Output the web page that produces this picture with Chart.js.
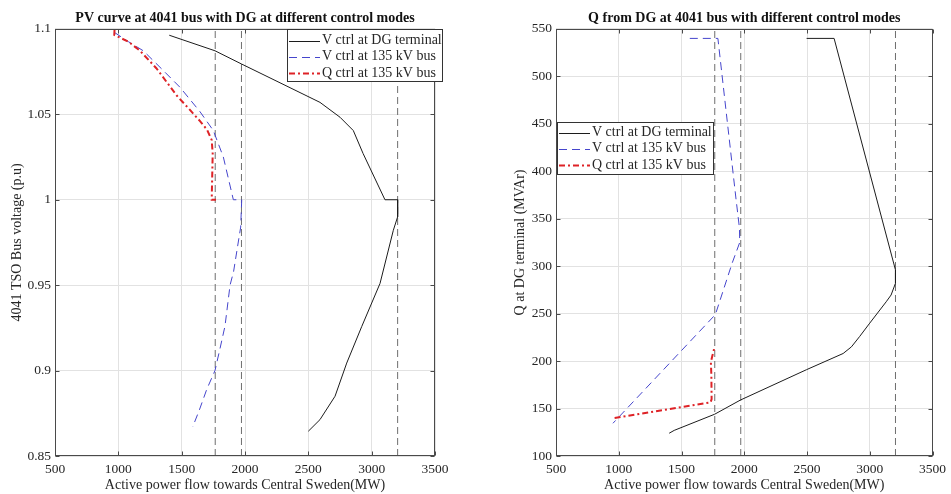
<!DOCTYPE html>
<html>
<head>
<meta charset="utf-8">
<script src="https://cdn.jsdelivr.net/npm/chart.js@4.4.1/dist/chart.umd.min.js"></script>
<style>
  html, body { margin: 0; padding: 0; background: #ffffff; }
  #wrap { position: relative; width: 951px; height: 494px; overflow: hidden; background: #ffffff; }
  canvas { position: absolute; top: 0; }
  #pv { left: 0; }
  #qc { left: 480px; }
</style>
</head>
<body>
<div id="wrap">
  <canvas id="pv" width="480" height="494"></canvas>
  <canvas id="qc" width="471" height="494"></canvas>
</div>
<script>
// Axis ticks
const flowTicks = [500, 1000, 1500, 2000, 2500, 3000, 3500];
const voltTicks = [0.85, 0.9, 0.95, 1, 1.05, 1.1];
const qTicks = [100, 150, 200, 250, 300, 350, 400, 450, 500, 550];

// Transfer limits (MW) marked as dashed verticals
const limitFlows = [1765, 1972, 3205];

const seriesNames = ['V ctrl at DG terminal', 'V ctrl at 135 kV bus', 'Q ctrl at 135 kV bus'];

// PV curve, voltage control at DG terminal
const pvDgFlow = [1402, 1763, 1974, 2300, 2592, 2750, 2855, 2932, 3105, 3205, 3205, 3171, 3066, 2921, 2803, 2711, 2592, 2500];
const pvDgVolt = [1.0963, 1.0872, 1.0794, 1.0676, 1.057, 1.0483, 1.0405, 1.0271, 1.0, 1.0, 0.99, 0.9821, 0.951, 0.9257, 0.9044, 0.885, 0.8713, 0.8645];

// PV curve, voltage control at 135 kV bus
const pvVbFlow = [968, 1080, 1197, 1350, 1487, 1645, 1750, 1829, 1908, 1974, 1966, 1940, 1910, 1882, 1842, 1800, 1763, 1698, 1640, 1587];
const pvVbVolt = [1.098, 1.0925, 1.0872, 1.076, 1.0658, 1.0515, 1.0405, 1.025, 1.0, 1.0, 0.984, 0.972, 0.958, 0.95, 0.926, 0.912, 0.9, 0.889, 0.877, 0.867];

// PV curve, reactive power control at 135 kV bus
const pvQbFlow = [970, 968, 1080, 1171, 1300, 1461, 1560, 1645, 1700, 1737, 1745, 1740, 1737, 1771];
const pvQbVolt = [1.0995, 1.0965, 1.0925, 1.0872, 1.077, 1.061, 1.053, 1.046, 1.041, 1.035, 1.027, 1.01, 1.0, 1.0];

// Reactive output of the DG, voltage control at DG terminal
const qDgFlow = [2497, 2716, 3205, 3205, 3170, 3131, 3000, 2920, 2854, 2788, 2497, 1970, 1764, 1442, 1402];
const qDgMvar = [540, 540, 296, 282, 269.6, 262.5, 240, 226, 215, 208, 191, 159, 144, 127, 124];

// Reactive output of the DG, voltage control at 135 kV bus
const qVbFlow = [1566, 1790, 1935, 1962, 1964, 1903, 1770, 954];
const qVbMvar = [540, 540, 370, 340, 325, 303, 249, 134.5];

// Reactive output of the DG, reactive power control at 135 kV bus
const qQbFlow = [967, 1732, 1740, 1738, 1734, 1745, 1760];
const qQbMvar = [140, 156.6, 160, 185, 199, 205, 213];

const serif = '"Liberation Serif", "Times New Roman", Times, serif';
const ink = '#262626';

Chart.defaults.font.family = serif;
Chart.defaults.color = ink;

function xy(xs, ys) { return xs.map((x, i) => ({ x: x, y: ys[i] })); }

function styles() {
  return [
    { borderColor: '#1c1c1c', borderWidth: 1, borderDash: [], order: 3 },
    { borderColor: '#4545cc', borderWidth: 1, borderDash: [8, 5], order: 2 },
    { borderColor: '#de2226', borderWidth: 2, borderDash: [6, 3, 2, 3], order: 1 }
  ];
}

function buildDatasets(pairs, yLo, yHi) {
  const st = styles();
  const sets = pairs.map((p, i) => Object.assign({
    label: seriesNames[i],
    data: xy(p[0], p[1]),
    showLine: true,
    pointRadius: 0,
    tension: 0,
    fill: false
  }, st[i]));
  limitFlows.forEach(f => {
    sets.push({
      label: 'limit',
      data: [{ x: f, y: yLo }, { x: f, y: yHi }],
      showLine: true,
      pointRadius: 0,
      borderColor: '#6e6e6e',
      borderWidth: 1,
      borderDash: [7, 4],
      order: 4
    });
  });
  return sets;
}

// Box around the axes with inward tick marks
const axesFrame = {
  id: 'axesFrame',
  afterDatasetsDraw(chart) {
    const { ctx, chartArea: a, scales } = chart;
    const xs = scales.x, ys = scales.y;
    const L = Math.round(a.left) + 0.5, R = Math.round(a.right) - 0.5;
    const T = Math.round(a.top) + 0.5, B = Math.round(a.bottom) - 0.5;
    const tl = 4;
    ctx.save();
    ctx.strokeStyle = '#4a4a4a';
    ctx.lineWidth = 1;
    ctx.setLineDash([]);
    ctx.strokeRect(L, T, R - L, B - T);
    ctx.beginPath();
    xs.ticks.forEach(t => {
      const p = Math.round(xs.getPixelForValue(t.value)) + 0.5;
      ctx.moveTo(p, B); ctx.lineTo(p, B - tl);
      ctx.moveTo(p, T); ctx.lineTo(p, T + tl);
    });
    ys.ticks.forEach(t => {
      const p = Math.round(ys.getPixelForValue(t.value)) + 0.5;
      ctx.moveTo(L, p); ctx.lineTo(L + tl, p);
      ctx.moveTo(R, p); ctx.lineTo(R - tl, p);
    });
    ctx.stroke();
    ctx.restore();
  }
};

// Boxed legend listing the three control modes
const boxLegend = {
  id: 'boxLegend',
  afterDraw(chart, args, o) {
    const { ctx } = chart;
    const items = seriesNames.map(n => chart.data.datasets.find(d => d.label === n));
    ctx.save();
    ctx.fillStyle = '#ffffff';
    ctx.fillRect(o.left, o.top, o.width, o.height);
    ctx.strokeStyle = '#333333';
    ctx.lineWidth = 1;
    ctx.strokeRect(Math.round(o.left) + 0.5, Math.round(o.top) + 0.5, Math.round(o.width), Math.round(o.height));
    ctx.font = '14px ' + serif;
    ctx.textBaseline = 'middle';
    ctx.textAlign = 'left';
    items.forEach((d, i) => {
      const yy = o.firstRow + i * o.rowGap;
      ctx.save();
      ctx.strokeStyle = d.borderColor;
      ctx.lineWidth = d.borderWidth;
      ctx.setLineDash(d.borderDash || []);
      ctx.beginPath();
      ctx.moveTo(o.left + 2, Math.round(yy) + 0.5);
      ctx.lineTo(o.left + 2 + o.sample, Math.round(yy) + 0.5);
      ctx.stroke();
      ctx.restore();
      ctx.fillStyle = ink;
      ctx.fillText(d.label, o.left + o.sample + 4, yy);
    });
    ctx.restore();
  }
};

function makeChart(id, spec) {
  const [yLo, yHi] = [spec.yTicks[0], spec.yTicks[spec.yTicks.length - 1]];
  return new Chart(document.getElementById(id), {
    type: 'scatter',
    data: { datasets: buildDatasets(spec.series, yLo, yHi) },
    plugins: [axesFrame, boxLegend],
    options: {
      responsive: false,
      animation: false,
      devicePixelRatio: 1,
      events: [],
      layout: { padding: { left: 0, right: spec.padRight, top: 0, bottom: 0 } },
      plugins: {
        legend: { display: false },
        tooltip: { enabled: false },
        title: {
          display: true,
          text: spec.title,
          fullSize: false,
          color: '#111111',
          font: { family: serif, size: 14, weight: 'bold', lineHeight: 1.2 },
          padding: { top: 9.8, bottom: 2.3 }
        },
        boxLegend: spec.legend
      },
      scales: {
        x: {
          type: 'linear',
          min: flowTicks[0],
          max: flowTicks[flowTicks.length - 1],
          afterBuildTicks: s => { s.ticks = flowTicks.map(v => ({ value: v })); },
          afterFit: s => { s.height = 38; },
          grid: { color: '#e2e2e2', lineWidth: 1, drawTicks: false },
          border: { display: false },
          ticks: { callback: v => String(v), font: { size: 13.5 }, color: ink, padding: 5, maxRotation: 0, autoSkip: false },
          title: { display: true, text: 'Active power flow towards Central Sweden(MW)', font: { size: 14, lineHeight: 1.2 }, color: ink, padding: { top: 0, bottom: 0 } }
        },
        y: {
          type: 'linear',
          min: yLo,
          max: yHi,
          afterBuildTicks: s => { s.ticks = spec.yTicks.map(v => ({ value: v })); },
          afterFit: s => { s.width = spec.axisWidth; },
          grid: { color: '#e2e2e2', lineWidth: 1, drawTicks: false },
          border: { display: false },
          ticks: { callback: v => String(v), font: { size: 13.5 }, color: ink, padding: 4, autoSkip: false },
          title: { display: true, text: spec.yTitle, font: { size: 14, lineHeight: 1.2 }, color: ink, padding: { top: spec.yTitlePad, bottom: 0 } }
        }
      }
    }
  });
}

makeChart('pv', {
  title: 'PV curve at 4041 bus with DG at different control modes',
  yTitle: '4041 TSO Bus voltage (p.u)',
  yTicks: voltTicks,
  axisWidth: 55,
  padRight: 45,
  yTitlePad: 9,
  series: [[pvDgFlow, pvDgVolt], [pvVbFlow, pvVbVolt], [pvQbFlow, pvQbVolt]],
  legend: { left: 287, top: 29, width: 155, height: 52, firstRow: 40.5, rowGap: 16.2, sample: 31 }
});

makeChart('qc', {
  title: 'Q from DG at 4041 bus with different control modes',
  yTitle: 'Q at DG terminal (MVAr)',
  yTicks: qTicks,
  axisWidth: 76,
  padRight: 16,
  yTitlePad: 32,
  series: [[qDgFlow, qDgMvar], [qVbFlow, qVbMvar], [qQbFlow, qQbMvar]],
  legend: { left: 77, top: 122, width: 156, height: 52, firstRow: 132.5, rowGap: 16.2, sample: 31 }
});
</script>
</body>
</html>
